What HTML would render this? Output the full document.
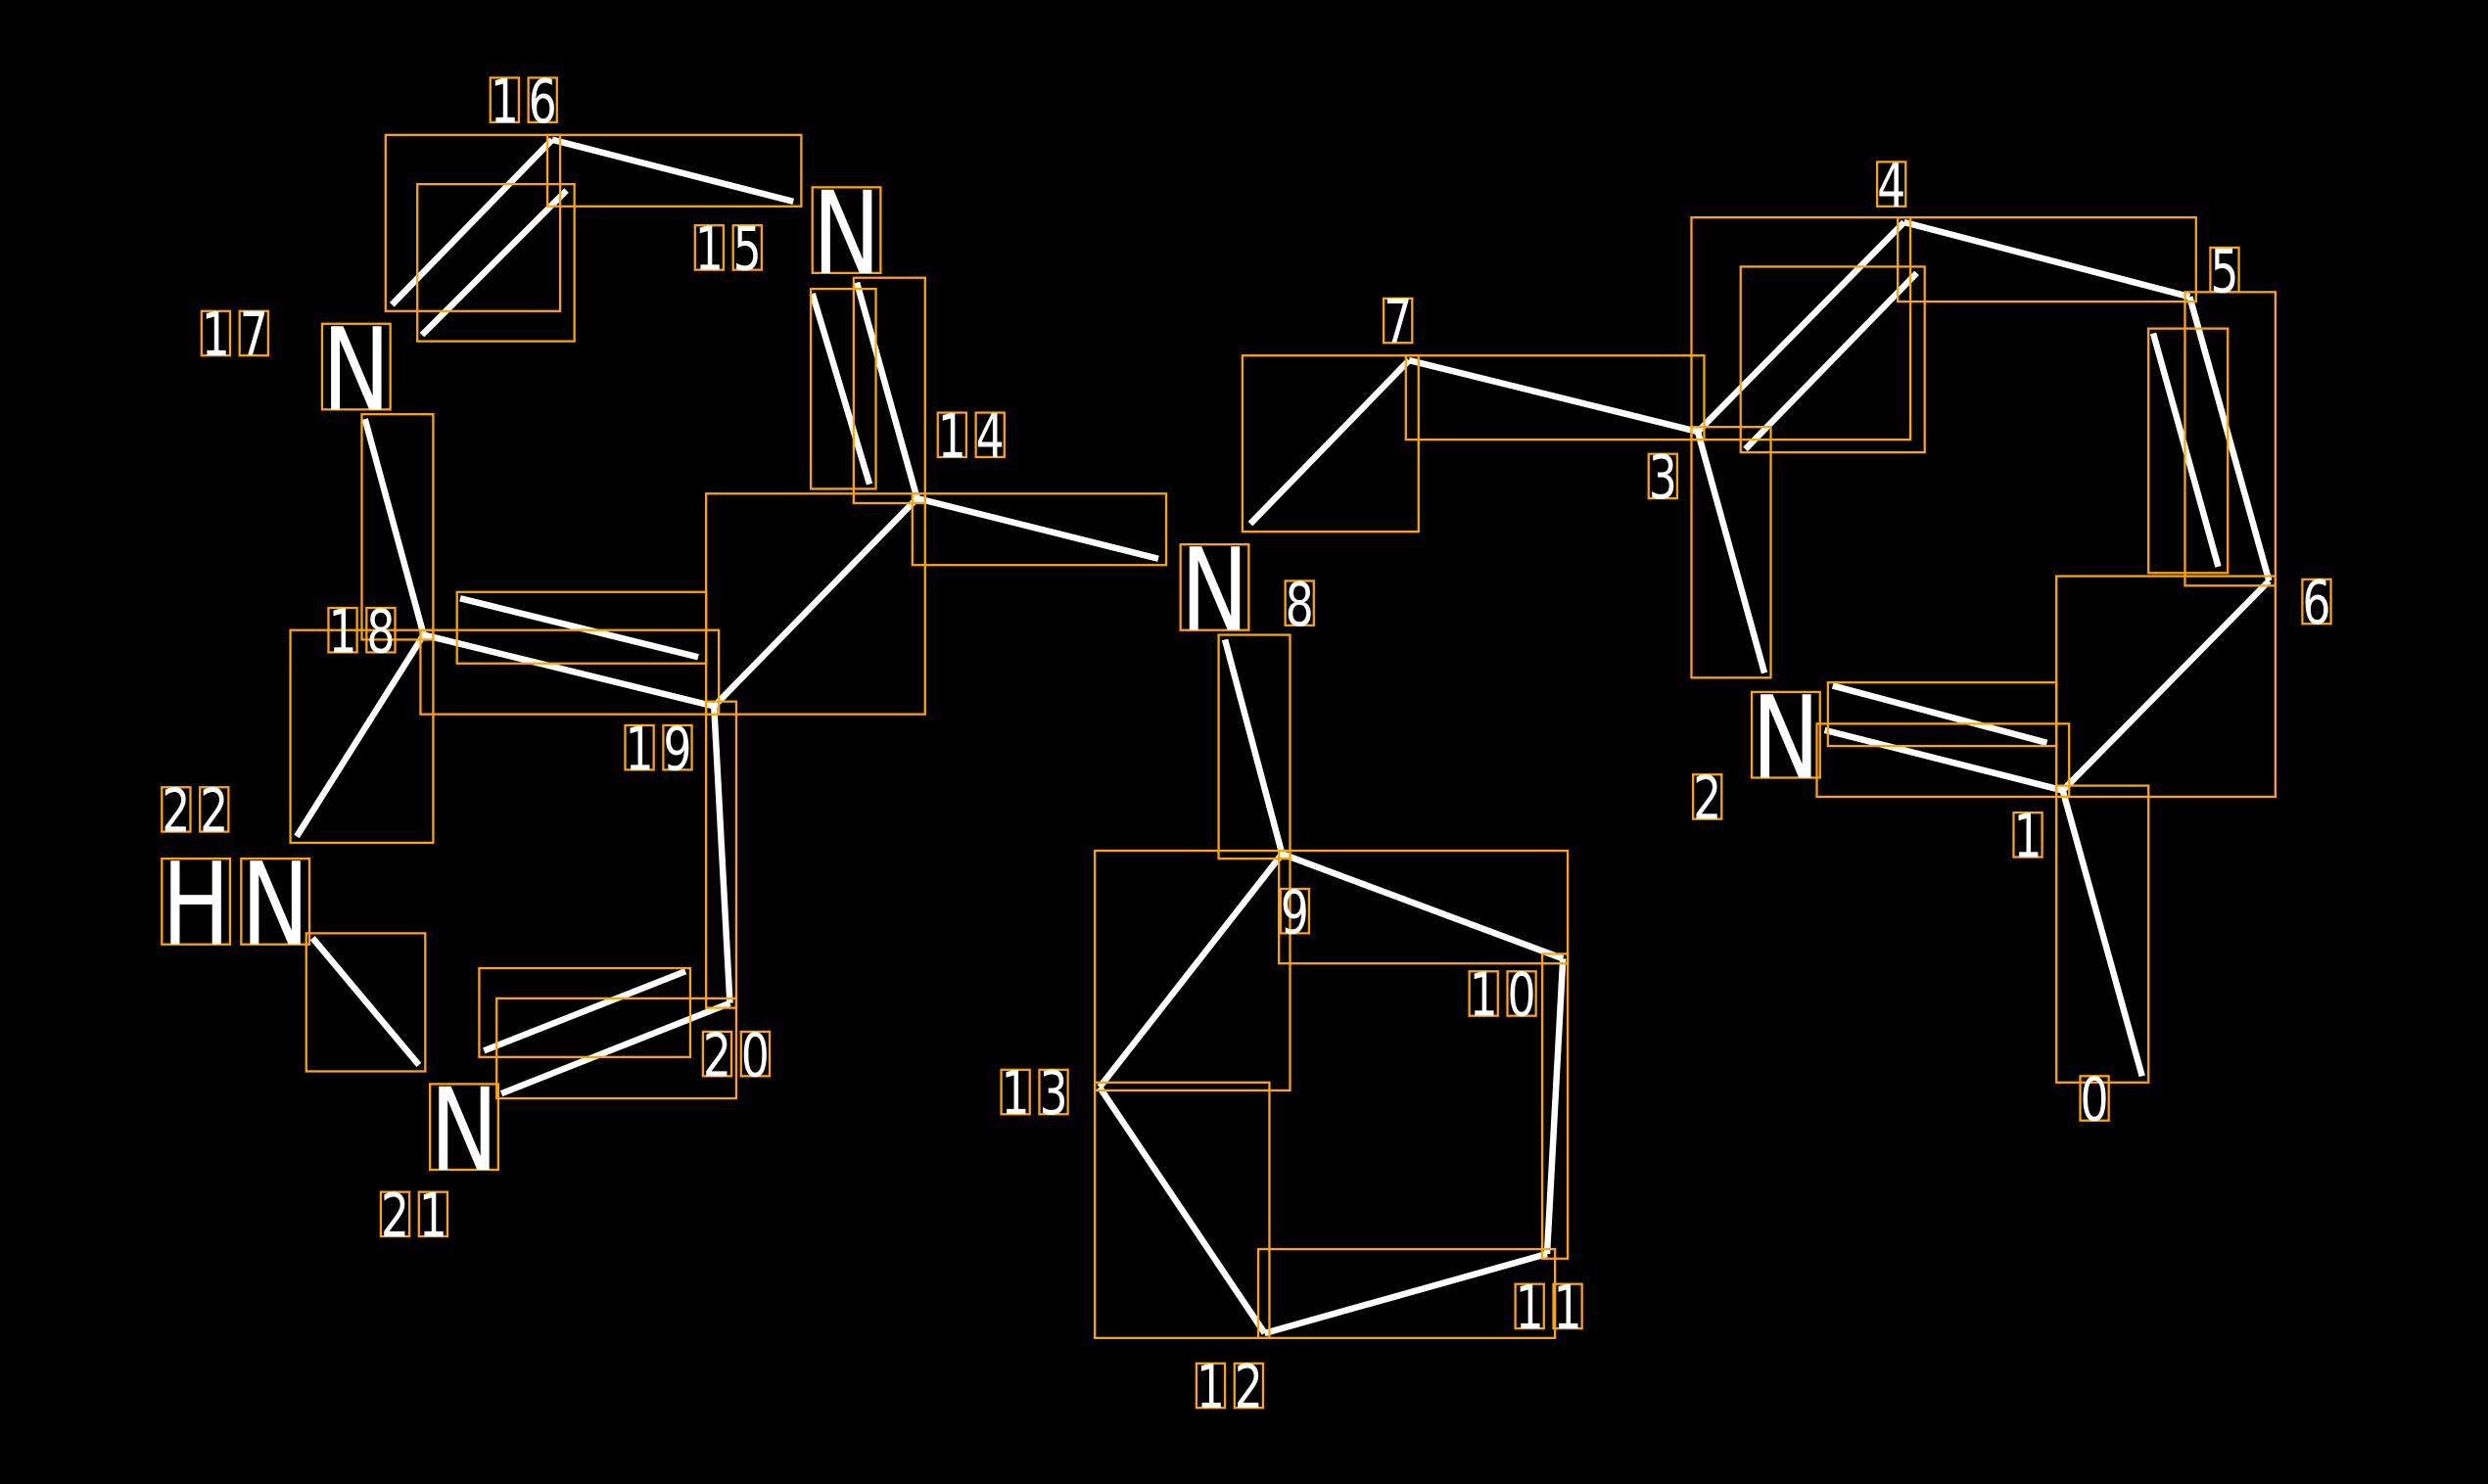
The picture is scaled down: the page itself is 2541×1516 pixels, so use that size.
<!DOCTYPE html>
<html><head><meta charset="utf-8"><style>
html,body{margin:0;padding:0;background:#000;}
svg{display:block;}
.b{stroke:#fff;stroke-width:4;stroke-linecap:butt;fill:none}
.o{stroke:#ffa500;stroke-width:1.4;fill:none}
.t{fill:#fff;font-family:"DejaVu Sans","Liberation Sans",sans-serif;font-size:38px}
.n{fill:#fff;font-family:"DejaVu Sans","Liberation Sans",sans-serif;font-size:72px}
</style></head><body>
<svg width="2541" height="1516" viewBox="0 0 1568 935" preserveAspectRatio="none" xmlns="http://www.w3.org/2000/svg">
<rect width="1568" height="935" fill="#000"/>
<g class="b">
<line x1="1350" y1="678" x2="1300" y2="498"/>
<line x1="1300" y1="498" x2="1430" y2="366"/>
<line x1="1430" y1="366" x2="1380" y2="187"/>
<line x1="1398" y1="357" x2="1357" y2="210"/>
<line x1="1380" y1="187" x2="1200" y2="140"/>
<line x1="1200" y1="140" x2="1070" y2="272"/>
<line x1="1208" y1="172" x2="1100" y2="283"/>
<line x1="1070" y1="272" x2="888" y2="227"/>
<line x1="888" y1="227" x2="788" y2="330"/>
<line x1="1070" y1="272" x2="1112" y2="424"/>
<line x1="1150" y1="460" x2="1300" y2="498"/>
<line x1="1155" y1="432" x2="1290" y2="468"/>
<line x1="772" y1="403" x2="808" y2="538"/>
<line x1="808" y1="538" x2="985" y2="604"/>
<line x1="985" y1="604" x2="975" y2="790"/>
<line x1="975" y1="790" x2="797" y2="840"/>
<line x1="797" y1="840" x2="693" y2="685"/>
<line x1="693" y1="685" x2="808" y2="538"/>
<line x1="578" y1="314" x2="730" y2="352"/>
<line x1="578" y1="314" x2="540" y2="178"/>
<line x1="548" y1="305" x2="512" y2="185"/>
<line x1="348" y1="88" x2="500" y2="127"/>
<line x1="348" y1="88" x2="247" y2="192"/>
<line x1="357" y1="120" x2="266" y2="211"/>
<line x1="230" y1="264" x2="267" y2="400"/>
<line x1="267" y1="400" x2="450" y2="445"/>
<line x1="290" y1="377" x2="440" y2="414"/>
<line x1="450" y1="445" x2="578" y2="314"/>
<line x1="450" y1="445" x2="460" y2="632"/>
<line x1="460" y1="632" x2="316" y2="689"/>
<line x1="432" y1="612" x2="305" y2="662"/>
<line x1="267" y1="400" x2="187" y2="527"/>
<line x1="197" y1="591" x2="264" y2="671"/>
</g>
<g class="o">
<rect x="1296" y="495" width="58" height="187"/>
<rect x="1296" y="363" width="138" height="139"/>
<rect x="1377" y="184" width="57" height="185"/>
<rect x="1354" y="207" width="50" height="154"/>
<rect x="1196" y="137" width="188" height="53"/>
<rect x="1066" y="137" width="138" height="140"/>
<rect x="1097" y="168" width="116" height="117"/>
<rect x="886" y="224" width="188" height="53"/>
<rect x="783" y="224" width="111" height="111"/>
<rect x="1066" y="269" width="50" height="158"/>
<rect x="1145" y="456" width="159" height="46"/>
<rect x="1152" y="430" width="144" height="40"/>
<rect x="768" y="400" width="45" height="141"/>
<rect x="806" y="536" width="182" height="71"/>
<rect x="972" y="601" width="16" height="192"/>
<rect x="793" y="787" width="187" height="56"/>
<rect x="690" y="682" width="110" height="161"/>
<rect x="690" y="536" width="123" height="151"/>
<rect x="575" y="311" width="160" height="45"/>
<rect x="538" y="175" width="45" height="142"/>
<rect x="511" y="182" width="41" height="126"/>
<rect x="345" y="85" width="160" height="45"/>
<rect x="243" y="85" width="110" height="111"/>
<rect x="263" y="116" width="99" height="99"/>
<rect x="228" y="261" width="45" height="142"/>
<rect x="265" y="397" width="188" height="53"/>
<rect x="288" y="373" width="157" height="45"/>
<rect x="445" y="311" width="138" height="139"/>
<rect x="445" y="442" width="19" height="193"/>
<rect x="313" y="629" width="151" height="63"/>
<rect x="302" y="610" width="133" height="56"/>
<rect x="183" y="397" width="90" height="134"/>
<rect x="193" y="588" width="75" height="87"/>
<!-- label char boxes -->
<rect x="1311" y="678" width="18" height="28"/>
<rect x="1269" y="512" width="18" height="28"/>
<rect x="1067" y="488" width="18" height="28"/>
<rect x="1039" y="286" width="18" height="28"/>
<rect x="1183" y="102" width="18" height="28"/>
<rect x="1393" y="156" width="18" height="28"/>
<rect x="1451" y="365" width="18" height="28"/>
<rect x="872" y="188" width="18" height="28"/>
<rect x="810" y="366" width="18" height="28"/>
<rect x="807" y="560" width="18" height="28"/>
<rect x="926" y="612" width="18" height="28"/><rect x="950" y="612" width="18" height="28"/>
<rect x="955" y="809" width="18" height="28"/><rect x="979" y="809" width="18" height="28"/>
<rect x="754" y="859" width="18" height="28"/><rect x="778" y="859" width="18" height="28"/>
<rect x="631" y="674" width="18" height="28"/><rect x="655" y="674" width="18" height="28"/>
<rect x="591" y="260" width="18" height="28"/><rect x="615" y="260" width="18" height="28"/>
<rect x="438" y="142" width="18" height="28"/><rect x="462" y="142" width="18" height="28"/>
<rect x="309" y="49" width="18" height="28"/><rect x="333" y="49" width="18" height="28"/>
<rect x="127" y="196" width="18" height="28"/><rect x="151" y="196" width="18" height="28"/>
<rect x="207" y="383" width="18" height="28"/><rect x="231" y="383" width="18" height="28"/>
<rect x="394" y="457" width="18" height="28"/><rect x="418" y="457" width="18" height="28"/>
<rect x="443" y="650" width="18" height="28"/><rect x="467" y="650" width="18" height="28"/>
<rect x="240" y="751" width="18" height="28"/><rect x="264" y="751" width="18" height="28"/>
<rect x="102" y="496" width="18" height="28"/><rect x="126" y="496" width="18" height="28"/>
<rect x="1104" y="436" width="43" height="54"/>
<rect x="744" y="343" width="43" height="54"/>
<rect x="512" y="118" width="43" height="54"/>
<rect x="203" y="204" width="43" height="54"/>
<rect x="271" y="683" width="43" height="54"/>
<rect x="102" y="541" width="43" height="54"/>
<rect x="152" y="541" width="43" height="54"/>
</g>
<g class="t">
<text x="1311" y="706" textLength="18" lengthAdjust="spacingAndGlyphs">0</text>
<text x="1269" y="540" textLength="18" lengthAdjust="spacingAndGlyphs">1</text>
<text x="1067" y="516" textLength="18" lengthAdjust="spacingAndGlyphs">2</text>
<text x="1039" y="314" textLength="18" lengthAdjust="spacingAndGlyphs">3</text>
<text x="1183" y="130" textLength="18" lengthAdjust="spacingAndGlyphs">4</text>
<text x="1393" y="184" textLength="18" lengthAdjust="spacingAndGlyphs">5</text>
<text x="1451" y="393" textLength="18" lengthAdjust="spacingAndGlyphs">6</text>
<text x="872" y="216" textLength="18" lengthAdjust="spacingAndGlyphs">7</text>
<text x="810" y="394" textLength="18" lengthAdjust="spacingAndGlyphs">8</text>
<text x="807" y="588" textLength="18" lengthAdjust="spacingAndGlyphs">9</text>
<text x="926" y="640" textLength="18" lengthAdjust="spacingAndGlyphs">1</text><text x="950" y="640" textLength="18" lengthAdjust="spacingAndGlyphs">0</text>
<text x="955" y="837" textLength="18" lengthAdjust="spacingAndGlyphs">1</text><text x="979" y="837" textLength="18" lengthAdjust="spacingAndGlyphs">1</text>
<text x="754" y="887" textLength="18" lengthAdjust="spacingAndGlyphs">1</text><text x="778" y="887" textLength="18" lengthAdjust="spacingAndGlyphs">2</text>
<text x="631" y="702" textLength="18" lengthAdjust="spacingAndGlyphs">1</text><text x="655" y="702" textLength="18" lengthAdjust="spacingAndGlyphs">3</text>
<text x="591" y="288" textLength="18" lengthAdjust="spacingAndGlyphs">1</text><text x="615" y="288" textLength="18" lengthAdjust="spacingAndGlyphs">4</text>
<text x="438" y="170" textLength="18" lengthAdjust="spacingAndGlyphs">1</text><text x="462" y="170" textLength="18" lengthAdjust="spacingAndGlyphs">5</text>
<text x="309" y="77" textLength="18" lengthAdjust="spacingAndGlyphs">1</text><text x="333" y="77" textLength="18" lengthAdjust="spacingAndGlyphs">6</text>
<text x="127" y="224" textLength="18" lengthAdjust="spacingAndGlyphs">1</text><text x="151" y="224" textLength="18" lengthAdjust="spacingAndGlyphs">7</text>
<text x="207" y="411" textLength="18" lengthAdjust="spacingAndGlyphs">1</text><text x="231" y="411" textLength="18" lengthAdjust="spacingAndGlyphs">8</text>
<text x="394" y="485" textLength="18" lengthAdjust="spacingAndGlyphs">1</text><text x="418" y="485" textLength="18" lengthAdjust="spacingAndGlyphs">9</text>
<text x="443" y="678" textLength="18" lengthAdjust="spacingAndGlyphs">2</text><text x="467" y="678" textLength="18" lengthAdjust="spacingAndGlyphs">0</text>
<text x="240" y="779" textLength="18" lengthAdjust="spacingAndGlyphs">2</text><text x="264" y="779" textLength="18" lengthAdjust="spacingAndGlyphs">1</text>
<text x="102" y="524" textLength="18" lengthAdjust="spacingAndGlyphs">2</text><text x="126" y="524" textLength="18" lengthAdjust="spacingAndGlyphs">2</text>
</g>
<g class="n">
<text x="1104" y="490" textLength="43" lengthAdjust="spacingAndGlyphs">N</text>
<text x="744" y="397" textLength="43" lengthAdjust="spacingAndGlyphs">N</text>
<text x="512" y="172" textLength="43" lengthAdjust="spacingAndGlyphs">N</text>
<text x="203" y="258" textLength="43" lengthAdjust="spacingAndGlyphs">N</text>
<text x="271" y="737" textLength="43" lengthAdjust="spacingAndGlyphs">N</text>
<text x="102" y="595" textLength="43" lengthAdjust="spacingAndGlyphs">H</text>
<text x="152" y="595" textLength="43" lengthAdjust="spacingAndGlyphs">N</text>
</g>
</svg>
</body></html>
